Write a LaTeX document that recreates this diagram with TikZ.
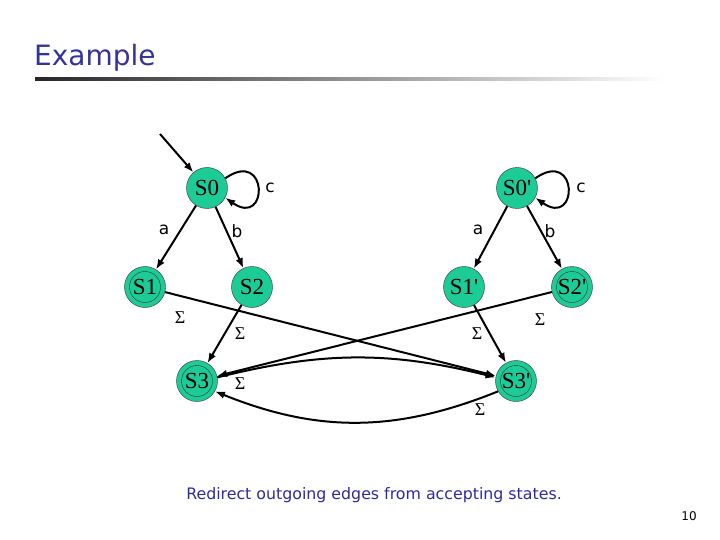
\documentclass[tikz,border=0pt]{standalone}
\usepackage{fontspec}
\usepackage{tikz}
\usetikzlibrary{arrows.meta,positioning,calc}
\setmainfont{Liberation Serif}
\newfontfamily\slidefont{DejaVu Sans}
\definecolor{statefill}{HTML}{1DCB97}
\definecolor{titleblue}{HTML}{333399}
\definecolor{capblue}{HTML}{2B2B9E}
\newcommand{\pr}{\textquotesingle}
\tikzset{
  state/.style={circle, draw=black!80, fill=statefill, minimum size=41pt, inner sep=0pt, font=\fontsize{23}{23}\selectfont},
  accept/.style={state, path picture={\draw[black!80] (path picture bounding box.center) circle (15.5pt);}},
  edgelbl/.style={font=\slidefont\fontsize{17}{17}\selectfont, inner sep=1pt},
  sigmalbl/.style={font=\fontsize{18}{18}\selectfont, inner sep=1pt},
  arrow/.style={-{Latex[length=10pt,width=7.5pt]}, line width=2pt, draw=black}
}

\begin{document}
\begin{tikzpicture}[x=1pt, y=-1pt]
  \useasboundingbox (0,0) rectangle (720,540);

  % title
  \node[anchor=west, text=titleblue, font=\slidefont\fontsize{28}{28}\selectfont, inner sep=0pt] (title) at (34,58) {Example};
  \shade[left color=black!85, right color=white] (35,77.5) rectangle (665,80.5);

  % first automaton
  \node[state] (S0) at (207,188) {S0};
  \node[accept] (S1) at (145,287) {S1};
  \node[state] (S2) at (252,287) {S2};
  \node[accept] (S3) at (197,381) {S3};

  % second automaton
  \node[state] (T0) at (517,188) {S0\pr};
  \node[state] (T1) at (464,287) {S1\pr};
  \node[accept] (T2) at (572,287) {S2\pr};
  \node[accept] (T3) at (516,381) {S3\pr};

  \coordinate (init) at (160,134);

  \draw[arrow] (init) -- (S0);
  \draw[arrow] (S0.28) to[out=35, in=-35, looseness=7] (S0.-28);
  \draw[arrow] (S0) -- (S1);
  \draw[arrow] (S0) -- (S2);
  \draw[arrow] (T0.28) to[out=35, in=-35, looseness=7] (T0.-28);
  \draw[arrow] (T0) -- (T1);
  \draw[arrow] (T0) -- (T2);

  \draw[arrow] (S1) -- (T3);
  \draw[arrow] (S2) -- (S3);
  \draw[arrow] (T2) -- (S3);
  \draw[arrow] (T1) -- (T3);
  \draw[arrow] (S3.10) to[bend left=14] (T3.170);
  \draw[arrow] (T3.-150) to[bend left=22] (S3.-30);

  % labels
  \node[edgelbl] (lc) at (270,188) {c};
  \node[edgelbl] (la) at (164,230) {a};
  \node[edgelbl] (lb) at (237,231) {b};
  \node[edgelbl] (lc2) at (581,188) {c};
  \node[edgelbl] (la2) at (478,230) {a};
  \node[edgelbl] (lb2) at (550,231) {b};

  \node[sigmalbl] (s1) at (180,318) {Σ};
  \node[sigmalbl] (s2) at (240,334) {Σ};
  \node[sigmalbl] (s3) at (240,384) {Σ};
  \node[sigmalbl] (s4) at (540,320) {Σ};
  \node[sigmalbl] (s5) at (477,334) {Σ};
  \node[sigmalbl] (s6) at (480,410) {Σ};

  \node[text=capblue, font=\slidefont\fontsize{15.8}{15.8}\selectfont] (cap) at (374,495) {Redirect outgoing edges from accepting states.};
  \node[font=\slidefont\fontsize{12}{12}\selectfont] (pg) at (689,516) {10};
\end{tikzpicture}
\end{document}
